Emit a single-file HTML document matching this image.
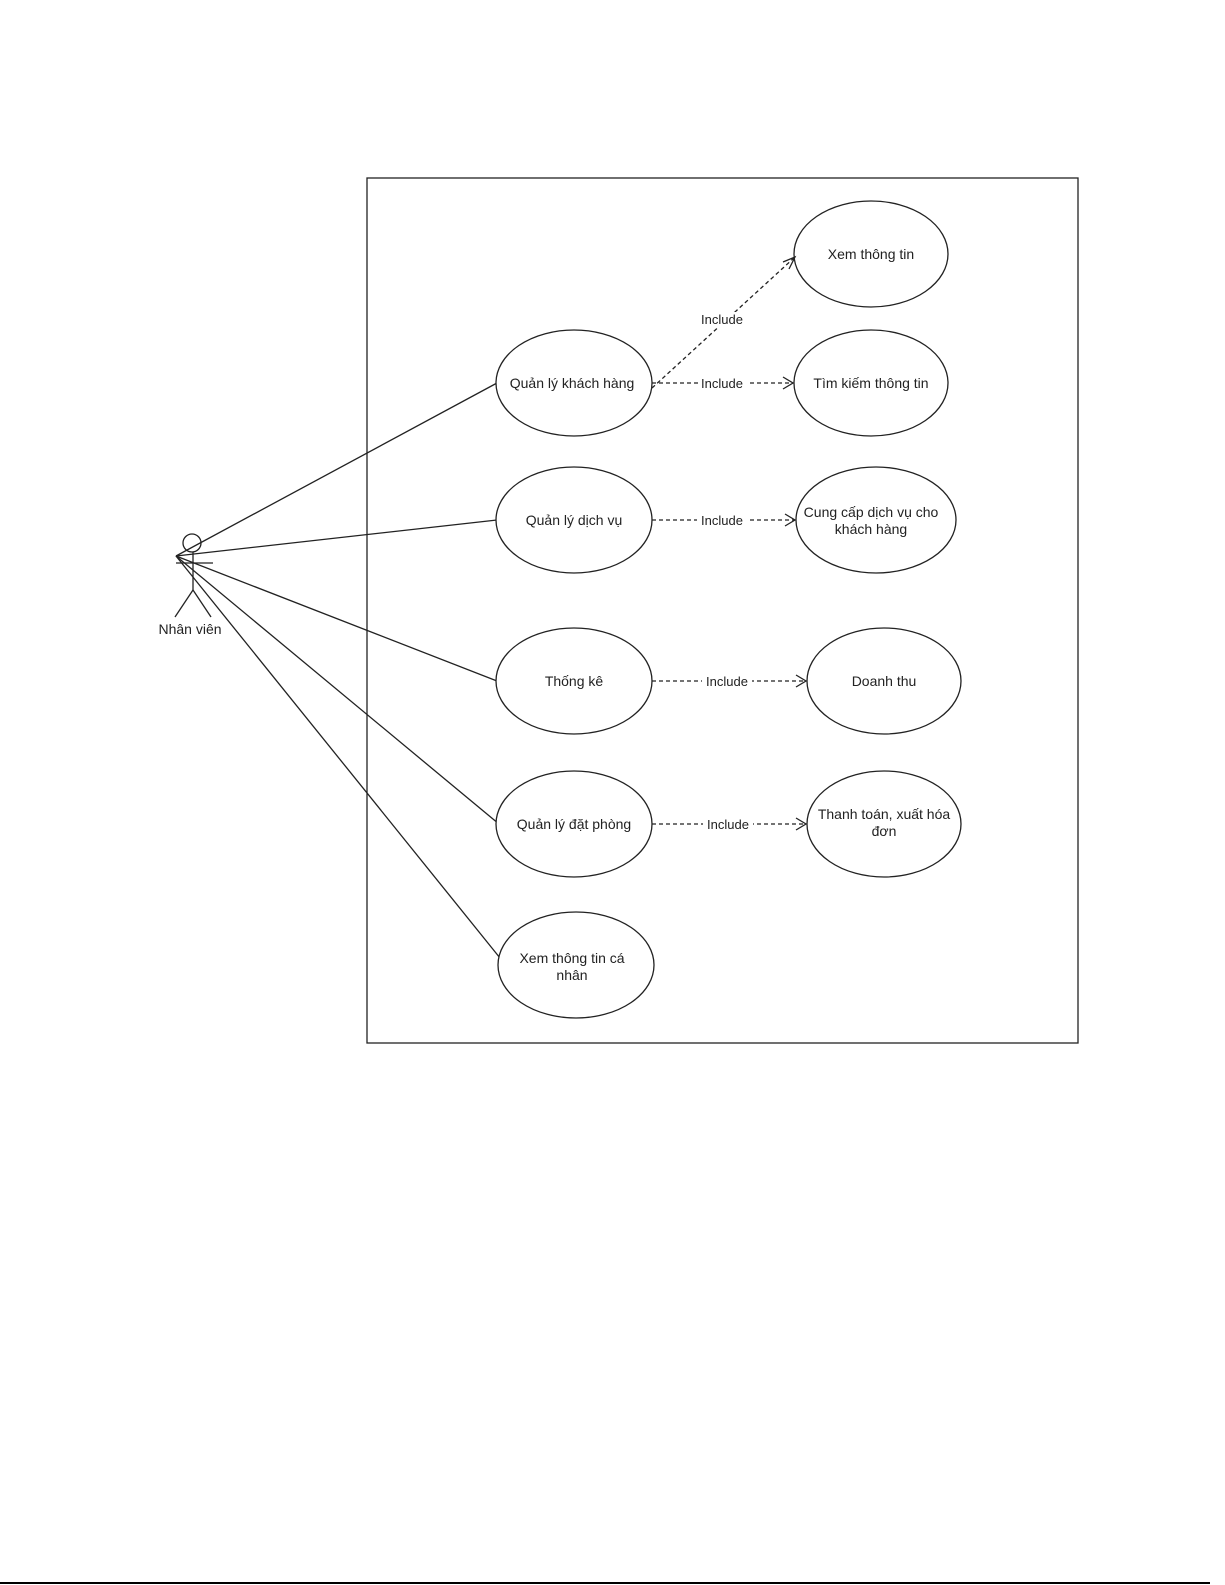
<!DOCTYPE html>
<html><head><meta charset="utf-8"><style>
html,body{margin:0;padding:0;background:#fff;}
svg{display:block;}
text{font-family:"Liberation Sans",sans-serif;fill:#222;}
</style></head><body>
<svg width="1225" height="1585" viewBox="0 0 1225 1585" xmlns="http://www.w3.org/2000/svg">
<rect x="0" y="0" width="1225" height="1585" fill="#fff"/>
<rect x="367" y="178" width="711" height="865" fill="none" stroke="#222" stroke-width="1.3"/>
<g stroke="#222" stroke-width="1.3" fill="none">
<!-- actor -->
<circle cx="192" cy="543" r="9"/>
<line x1="193" y1="552" x2="193" y2="590"/>
<line x1="176" y1="563" x2="213" y2="563"/>
<line x1="193" y1="590" x2="175" y2="617"/>
<line x1="193" y1="590" x2="211" y2="617"/>
<!-- associations -->
<line x1="176" y1="556" x2="497" y2="383"/>
<line x1="176" y1="556" x2="497" y2="520"/>
<line x1="176" y1="556" x2="497" y2="681"/>
<line x1="176" y1="556" x2="499" y2="824"/>
<line x1="176" y1="556" x2="500" y2="958"/>
<!-- ellipses -->
<ellipse cx="574" cy="383" rx="78" ry="53" fill="#fff"/>
<ellipse cx="574" cy="520" rx="78" ry="53" fill="#fff"/>
<ellipse cx="574" cy="681" rx="78" ry="53" fill="#fff"/>
<ellipse cx="574" cy="824" rx="78" ry="53" fill="#fff"/>
<ellipse cx="576" cy="965" rx="78" ry="53" fill="#fff"/>
<ellipse cx="871" cy="254" rx="77" ry="53" fill="#fff"/>
<ellipse cx="871" cy="383" rx="77" ry="53" fill="#fff"/>
<ellipse cx="876" cy="520" rx="80" ry="53" fill="#fff"/>
<ellipse cx="884" cy="681" rx="77" ry="53" fill="#fff"/>
<ellipse cx="884" cy="824" rx="77" ry="53" fill="#fff"/>
<!-- include -->
<g stroke-dasharray="4,3">
<line x1="652" y1="388" x2="795" y2="257"/>
<line x1="652" y1="383" x2="793" y2="383"/>
<line x1="652" y1="520" x2="795" y2="520"/>
<line x1="652" y1="681" x2="806" y2="681"/>
<line x1="652" y1="824" x2="806" y2="824"/>
</g>
<polyline points="783,262 795,257 789,269"/>
<polyline points="783,377 793,383 783,389"/>
<polyline points="785,514 795,520 785,526"/>
<polyline points="796,675 806,681 796,687"/>
<polyline points="796,818 806,824 796,830"/>
</g>
<g font-size="13" text-anchor="middle">
<rect x="697" y="312" width="50" height="15" fill="#fff"/>
<text x="722" y="324">Include</text>
<rect x="698" y="376" width="50" height="15" fill="#fff"/>
<text x="722" y="388">Include</text>
<rect x="697" y="513" width="50" height="15" fill="#fff"/>
<text x="722" y="525">Include</text>
<rect x="702" y="674" width="50" height="15" fill="#fff"/>
<text x="727" y="686">Include</text>
<rect x="703" y="817" width="50" height="15" fill="#fff"/>
<text x="728" y="829">Include</text>
</g>
<g font-size="14" text-anchor="middle">
<text x="572" y="388">Quản lý khách hàng</text>
<text x="574" y="525">Quản lý dịch vụ</text>
<text x="574" y="686">Thống kê</text>
<text x="574" y="829">Quản lý đặt phòng</text>
<text x="572" y="963">Xem thông tin cá</text>
<text x="572" y="980">nhân</text>
<text x="871" y="259">Xem thông tin</text>
<text x="871" y="388">Tìm kiếm thông tin</text>
<text x="871" y="517">Cung cấp dịch vụ cho</text>
<text x="871" y="534">khách hàng</text>
<text x="884" y="686">Doanh thu</text>
<text x="884" y="819">Thanh toán, xuất hóa</text>
<text x="884" y="836">đơn</text>
<text x="190" y="634">Nhân viên</text>
</g>
<line x1="0" y1="1583" x2="1210" y2="1583" stroke="#000" stroke-width="2"/>
</svg>
</body></html>
